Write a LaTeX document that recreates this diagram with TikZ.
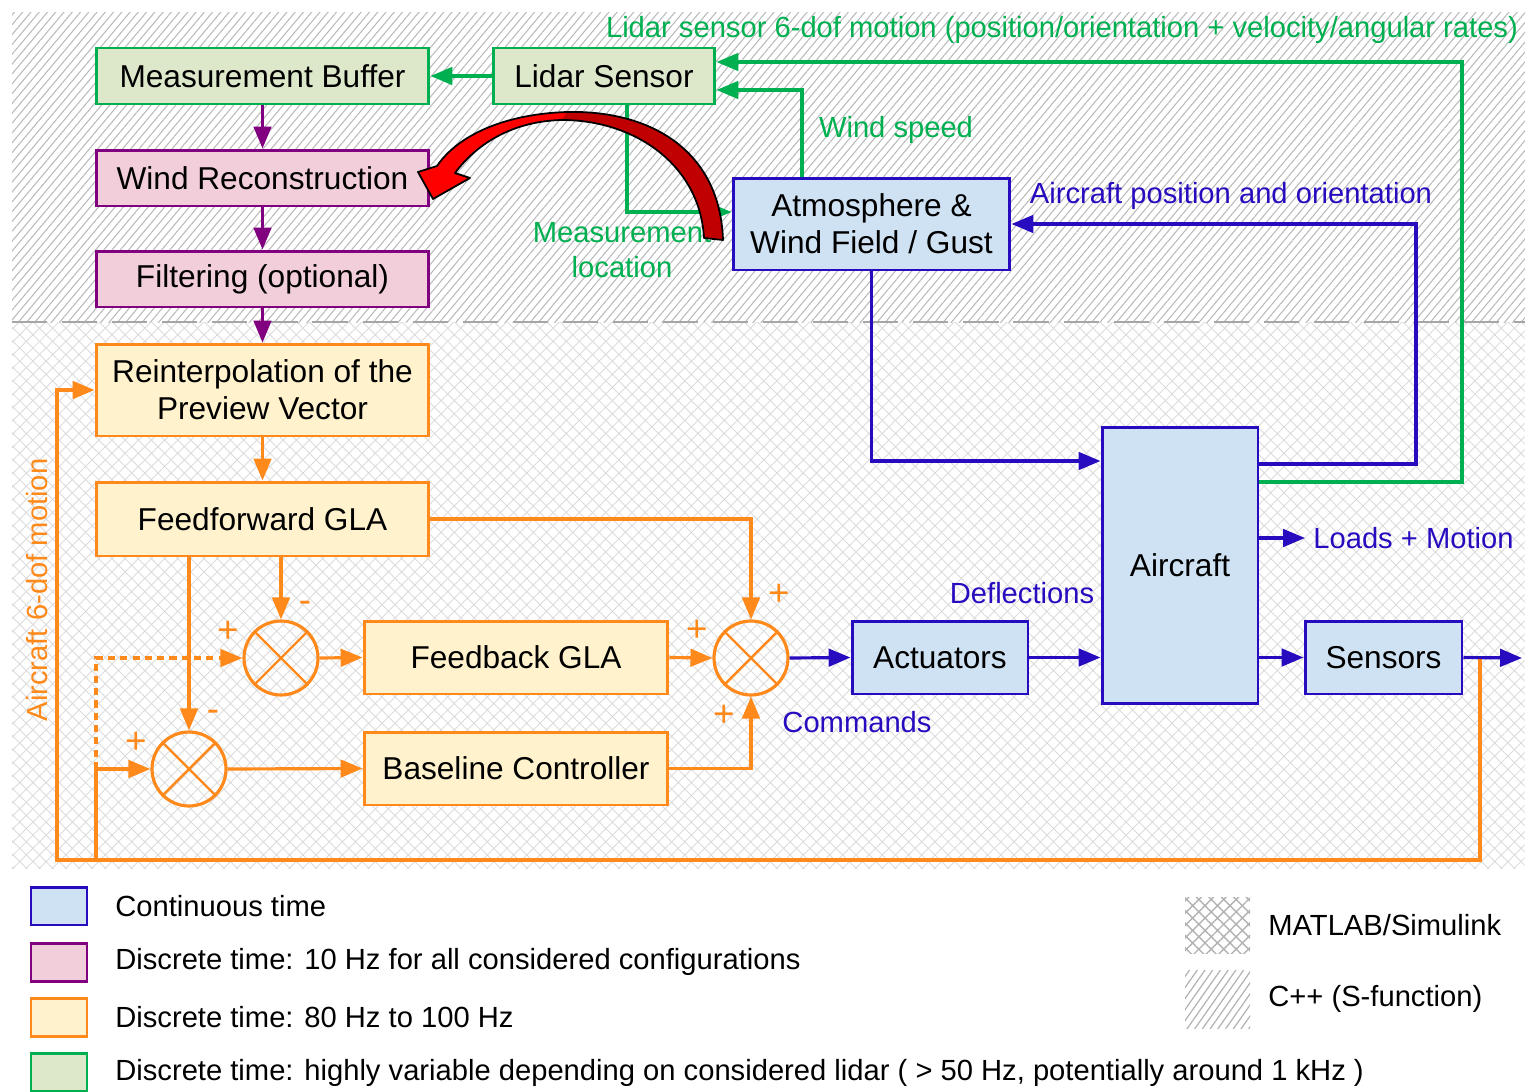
\documentclass[tikz,border=0pt]{standalone}
\usepackage{fontspec}
\setmainfont{Liberation Sans}
\usetikzlibrary{arrows.meta,patterns.meta,calc}
\definecolor{cgreen}{RGB}{0,176,80}
\definecolor{fgreen}{RGB}{221,232,203}
\definecolor{cpurple}{RGB}{128,0,128}
\definecolor{fpurple}{RGB}{242,206,219}
\definecolor{corange}{RGB}{255,137,26}
\definecolor{forange}{RGB}{255,242,204}
\definecolor{cblue}{RGB}{38,12,190}
\definecolor{fblue}{RGB}{207,226,243}
\definecolor{darkred}{RGB}{192,0,0}
\begin{document}
\begin{tikzpicture}[x=0.02cm,y=-0.02cm,
  >={Triangle[length=12.5pt,width=10pt]},
  box/.style={draw, line width=1.7pt, inner sep=0pt, align=center, font=\fontsize{18}{21}\selectfont},
  boxG/.style={box, draw=cgreen, fill=fgreen},
  boxP/.style={box, draw=cpurple, fill=fpurple},
  boxO/.style={box, draw=corange, fill=forange},
  boxB/.style={box, draw=cblue, fill=fblue},
  sumj/.style={circle, draw=corange, line width=1.8pt, minimum size=1.48cm, inner sep=0pt},
  gl/.style={draw=cgreen, line width=1.8pt},
  pl/.style={draw=cpurple, line width=1.8pt},
  ol/.style={draw=corange, line width=1.8pt},
  bl/.style={draw=cblue, line width=1.8pt},
  lbl/.style={font=\fontsize{16.6}{19.5}\selectfont, inner sep=0pt, align=center},
  sgn/.style={text=corange, font=\fontsize{21}{21}\selectfont, inner sep=0pt},
]
\useasboundingbox (0,0) rectangle (1525,1092);
% background regions
\path[pattern={Lines[angle=50,distance=3.6pt,line width=0.6pt]}, pattern color=gray!55] (12,12) rectangle (1525,322);
\path[pattern={Hatch[angle=45,distance=5.3pt,line width=0.5pt]}, pattern color=gray!28] (12,322) rectangle (1525,868);
\draw[gray!70, line width=1.7pt, dash pattern=on 20pt off 8.5pt] (12,322) -- (1525,322);

% blocks
\node[boxG, minimum width=6.66cm, minimum height=1.12cm] (mb) at (262.5,76) {Measurement Buffer};
\node[boxG, minimum width=4.44cm, minimum height=1.12cm] (ls) at (604,76) {Lidar Sensor};
\node[boxP, minimum width=6.66cm, minimum height=1.12cm] (wr) at (262.5,178) {Wind Reconstruction};
\node[boxP, minimum width=6.66cm, minimum height=1.12cm] (fo) at (262.5,279) {Filtering (optional)};
\node[boxO, minimum width=6.66cm, minimum height=1.84cm] (ri) at (262.5,390) {Reinterpolation of the\\Preview Vector};
\node[boxO, minimum width=6.66cm, minimum height=1.48cm] (ff) at (262.5,519) {Feedforward GLA};
\node[boxO, minimum width=6.08cm, minimum height=1.46cm] (fb) at (516,657.5) {Feedback GLA};
\node[boxO, minimum width=6.08cm, minimum height=1.46cm] (bc) at (516,768.5) {Baseline Controller};
\node[boxB, minimum width=5.54cm, minimum height=1.84cm] (atm) at (871.5,224) {Atmosphere \&\\Wind Field / Gust};
\node[boxB, minimum width=3.12cm, minimum height=5.54cm] (ac) at (1180,565.5) {Aircraft};
\node[boxB, minimum width=3.52cm, minimum height=1.46cm] (act) at (940,657.5) {Actuators};
\node[boxB, minimum width=3.14cm, minimum height=1.46cm] (sen) at (1383.5,657.5) {Sensors};

% summing junctions
\node[sumj] (s1) at (281,658) {};
\node[sumj] (s2) at (751,658) {};
\node[sumj] (s3) at (189,769) {};
\foreach \s in {s1,s2,s3}
  \draw[ol, line width=1.4pt] (\s.north west) -- (\s.south east) (\s.north east) -- (\s.south west);

% helper coordinates
\coordinate (out) at (1522,658);
\coordinate (c1) at (1480,658);
\coordinate (c2) at (1480,860);
\coordinate (c3) at (57,860);
\coordinate (b1) at (96,860);
\coordinate (b2) at (96,769);
\coordinate (y461) at (0,461);
\coordinate (q1) at (1416,464);
\coordinate (q2) at (1462,482);
\coordinate (q3) at (1462,62);
\coordinate (q4) at (802,90);
\coordinate (q5) at (627,212);
\coordinate (q6) at (1305,538);

% green connectors
\draw[gl,->] (ls.west) -- (mb.east);
\draw[gl,->] (q2 -| ac.east) -- (q2) -- (q3) -- (q3 -| ls.east);
\draw[gl,->] (q4 |- atm.north) -- (q4) -- (q4 -| ls.east);
\draw[gl,->] (q5 |- ls.south) -- (q5) -- (q5 -| atm.west);
% purple connectors
\draw[pl,->] (mb.south) -- (wr.north);
\draw[pl,->] (wr.south) -- (fo.north);
\draw[pl,->] (fo.south) -- (ri.north);
% orange connectors
\draw[ol,->] (ri.south) -- (ff.north);
\draw[ol,->] (ff.east) -| (s2.north);
\draw[ol,->] (s1.north |- ff.south) -- (s1.north);
\draw[ol,->] (s3.north |- ff.south) -- (s3.north);
\draw[ol,->] (s1.east) -- (fb.west);
\draw[ol,->] (fb.east) -- (s2.west);
\draw[ol,->] (s3.east) -- (bc.west);
\draw[ol,->] (bc.east) -| (s2.south);
\draw[ol,->] (c1) -- (c2) -- (c3) |- (ri.west);
\draw[ol,->] (b1) |- (s3.west);
\draw[ol,->,dash pattern=on 4pt off 3pt] (b2) |- (s1.west);
% blue connectors
\draw[bl,->] (s2.east) -- (act.west);
\draw[bl,->] (act.east) -- (act.east -| ac.west);
\draw[bl,->] (sen.west -| ac.east) -- (sen.west);
\draw[bl,->] (sen.east) -- (out);
\draw[bl,->] (atm.south) |- (y461 -| ac.west);
\draw[bl,->] (q1 -| ac.east) -- (q1) |- (atm.east);
\draw[bl,->] (q6 -| ac.east) -- (q6);

% labels
\node[lbl, text=cgreen] (lab1) at (1062,30) {Lidar sensor 6-dof motion (position/orientation + velocity/angular rates)};
\node[lbl, text=cgreen] (lab2) at (896,130) {Wind speed};
\node[lbl, text=cgreen] (lab3) at (622,250) {Measurement\\location};
\node[lbl, text=cblue] (lab4) at (1231,196) {Aircraft position and orientation};
\node[lbl, text=cblue, anchor=west] (lab5) at (1313,538) {Loads + Motion};
\node[lbl, text=cblue] (lab6) at (1022,593) {Deflections};
\node[lbl, text=cblue] (lab7) at (857,722) {Commands};
\node[lbl, text=corange, rotate=90] (lab8) at (37,590) {Aircraft 6-dof motion};
\node[sgn] (p1) at (228,632) {+};
\node[sgn] (m1) at (305,607) {-};
\node[sgn] (p2) at (136,743) {+};
\node[sgn] (m2) at (213,716) {-};
\node[sgn] (p3) at (779,595) {+};
\node[sgn] (p4) at (697,631) {+};
\node[sgn] (p5) at (724,716) {+};

% red curved arrow
\fill[red] (723,240) .. controls (720,150) and (650,110) .. (567,112) .. controls (505,114) and (458,135) .. (437,166) -- (418,172) -- (433,199) -- (470,178) -- (455,173) .. controls (478,142) and (515,121) .. (562,120) .. controls (635,120) and (700,165) .. (704,238) -- cycle;
\fill[darkred] (567,112) .. controls (650,110) and (720,150) .. (723,240) -- (704,238) .. controls (700,165) and (635,120) .. (562,120) -- cycle;
\draw[black, line width=1pt, line join=round] (723,240) .. controls (720,150) and (650,110) .. (567,112) .. controls (505,114) and (458,135) .. (437,166) -- (418,172) -- (433,199) -- (470,178) -- (455,173) .. controls (478,142) and (515,121) .. (562,120) .. controls (635,120) and (700,165) .. (704,238) -- cycle;

% legend
\node[boxB, minimum width=1.12cm, minimum height=0.76cm] (lg1) at (59,906) {};
\node[boxP, minimum width=1.12cm, minimum height=0.76cm] (lg2) at (59,962) {};
\node[boxO, minimum width=1.12cm, minimum height=0.76cm] (lg3) at (59,1017) {};
\node[boxG, minimum width=1.12cm, minimum height=0.76cm] (lg4) at (59,1072) {};
\node[lbl, anchor=west] (lt1) at (115,906) {Continuous time};
\node[lbl, anchor=west] (lt2) at (115,962) {Discrete time: 10 Hz for all considered configurations};
\node[lbl, anchor=west] (lt3) at (115,1017) {Discrete time: 80 Hz to 100 Hz};
\node[lbl, anchor=west] (lt4) at (115,1073) {Discrete time: highly variable depending on considered lidar ( > 50 Hz, potentially around 1 kHz )};
\path[pattern={Hatch[angle=45,distance=5pt,line width=0.8pt]}, pattern color=gray!60] (1185,897) rectangle (1250,953);
\path[pattern={Lines[angle=55,distance=3.6pt,line width=0.7pt]}, pattern color=gray!60] (1185,970) rectangle (1250,1028);
\node[lbl, anchor=west] (lt5) at (1268,925) {MATLAB/Simulink};
\node[lbl, anchor=west] (lt6) at (1268,999) {C++ (S-function)};
\end{tikzpicture}
\end{document}
